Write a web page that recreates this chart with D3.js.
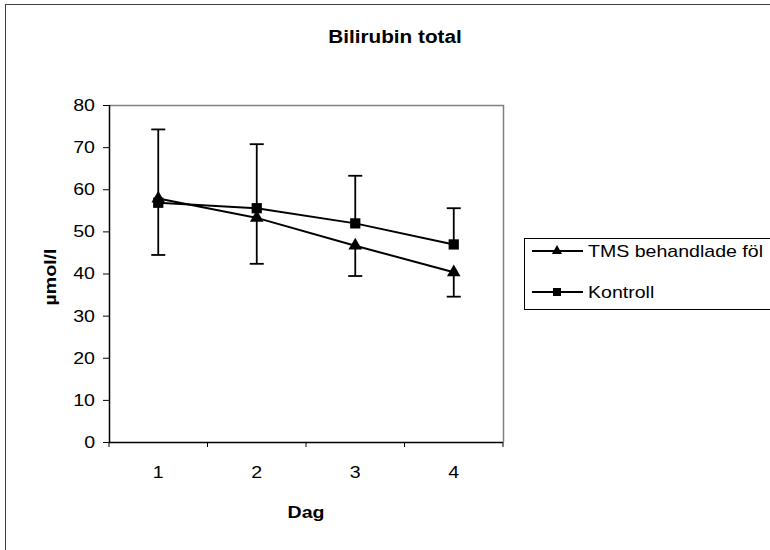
<!DOCTYPE html>
<html>

<head>
  <title>Bilirubin total</title>
  <script src="https://cdn.jsdelivr.net/npm/d3@7/dist/d3.min.js"></script>
  <style>
    body { margin: 0; background: #fff; }
    text { font-family: "Liberation Sans", Arial, sans-serif; }
  </style>
</head>

<body>
  <svg width="770" height="550" id="mainsvg"></svg>
  <script>
    // data
    const days = ['1', '2', '3', '4'];
    const tmsValues = [57.8, 53.2, 46.6, 40.3];
    const tmsErrMinus = [13.4, 10.9, 7.2, 5.8];
    const kontrollValues = [56.8, 55.5, 51.9, 46.9];
    const kontrollErrPlus = [17.4, 15.2, 11.3, 8.6];
    const yTicks = [0, 10, 20, 30, 40, 50, 60, 70, 80];
    const seriesNames = ['TMS behandlade föl', 'Kontroll'];

    const svg = d3.select('#mainsvg');
    const width = +svg.attr('width');
    const height = +svg.attr('height');

    // text in the original is a little wider than Arial
    const stretch = sel => sel.each(function () {
      const w = this.getComputedTextLength();
      d3.select(this).attr('textLength', w * 1.15).attr('lengthAdjust', 'spacingAndGlyphs');
    });

    // outer chart frame (runs off the right and bottom edge)
    svg.append('rect')
      .attr('x', 5.5).attr('y', 4.5)
      .attr('width', width + 10).attr('height', height + 10)
      .attr('fill', 'none').attr('stroke', '#404040').attr('stroke-width', 1);

    const plot = { left: 109, top: 105, right: 503, bottom: 442 };

    const x = d3.scaleBand().domain(days).range([plot.left, plot.right]);
    const y = d3.scaleLinear().domain([0, 80]).range([plot.bottom, plot.top]);
    const cx = d => x(d) + x.bandwidth() / 2;

    // plot frame: grey top / right
    svg.append('path')
      .attr('d', `M${plot.left},${plot.top + 0.5}H${plot.right + 0.5}V${plot.bottom}`)
      .attr('fill', 'none').attr('stroke', '#808080').attr('stroke-width', 1.5);

    // y axis
    const yAxis = svg.append('g')
      .attr('transform', `translate(${plot.left},0)`)
      .call(d3.axisLeft(y).tickValues(yTicks).tickSize(6).tickPadding(8));
    // x axis
    const xAxis = svg.append('g')
      .attr('transform', `translate(0,${plot.bottom})`)
      .call(d3.axisBottom(x).tickSize(0).tickPadding(24));
    xAxis.selectAll('.tick line').remove();
    xAxis.selectAll('.bnd')
      .data(days.concat(['end']))
      .join('line')
      .attr('x1', (d, i) => i < days.length ? x(d) : plot.right)
      .attr('x2', (d, i) => i < days.length ? x(d) : plot.right)
      .attr('y1', 0).attr('y2', 5)
      .attr('stroke', '#000');

    [yAxis, xAxis].forEach(a => {
      a.select('.domain').attr('stroke', '#000').attr('stroke-width', 1.5);
      a.selectAll('text').attr('font-size', 17).attr('fill', '#000')
        .attr('font-family', '"Liberation Sans", Arial, sans-serif')
        .call(stretch);
    });
    yAxis.select('.domain').attr('d', `M0.5,${plot.top}V${plot.bottom}`);
    xAxis.select('.domain').attr('d', `M${plot.left},0.5H${plot.right}`);

    // titles
    svg.append('text')
      .attr('x', 395).attr('y', 43)
      .attr('text-anchor', 'middle')
      .attr('font-size', 18).attr('font-weight', 'bold')
      .text('Bilirubin total').call(stretch);
    svg.append('text')
      .attr('x', 306).attr('y', 518)
      .attr('text-anchor', 'middle')
      .attr('font-size', 17).attr('font-weight', 'bold')
      .text('Dag').call(stretch);
    svg.append('text')
      .attr('transform', `translate(56,277) rotate(-90)`)
      .attr('text-anchor', 'middle')
      .attr('font-size', 17).attr('font-weight', 'bold')
      .text('µmol/l').call(stretch);

    const line = d3.line().x(d => cx(d.day)).y(d => y(d.v));
    const tmsData = days.map((d, i) => ({ day: d, v: tmsValues[i], lo: tmsValues[i] - tmsErrMinus[i], hi: tmsValues[i] }));
    const kData = days.map((d, i) => ({ day: d, v: kontrollValues[i], lo: kontrollValues[i], hi: kontrollValues[i] + kontrollErrPlus[i] }));

    const errG = svg.append('g').attr('stroke', '#000').attr('stroke-width', 1.8);
    const drawErr = (data, cap) => {
      errG.selectAll(null).data(data).join('line')
        .attr('x1', d => cx(d.day)).attr('x2', d => cx(d.day))
        .attr('y1', d => y(d.lo)).attr('y2', d => y(d.hi));
      errG.selectAll(null).data(data).join('line')
        .attr('x1', d => cx(d.day) - 7).attr('x2', d => cx(d.day) + 7)
        .attr('y1', d => y(d[cap])).attr('y2', d => y(d[cap]));
    };
    drawErr(tmsData, 'lo');
    drawErr(kData, 'hi');

    svg.append('path').datum(tmsData).attr('d', line)
      .attr('fill', 'none').attr('stroke', '#000').attr('stroke-width', 2);
    svg.append('path').datum(kData).attr('d', line)
      .attr('fill', 'none').attr('stroke', '#000').attr('stroke-width', 2);

    const tri = d3.symbol().type(d3.symbolTriangle).size(80);
    const sq = d3.symbol().type(d3.symbolSquare).size(105);
    svg.selectAll('.tri').data(tmsData).join('path')
      .attr('class', 'tri').attr('d', tri)
      .attr('transform', d => `translate(${cx(d.day)},${y(d.v)})`);
    svg.selectAll('.sq').data(kData).join('path')
      .attr('class', 'sq').attr('d', sq)
      .attr('transform', d => `translate(${cx(d.day)},${y(d.v)})`);

    // legend
    const lg = svg.append('g');
    lg.append('rect')
      .attr('x', 524.5).attr('y', 238.5).attr('width', 260).attr('height', 71)
      .attr('fill', '#fff').attr('stroke', '#000').attr('stroke-width', 1);
    const items = lg.selectAll('.item').data(seriesNames).join('g')
      .attr('class', 'item')
      .attr('transform', (d, i) => `translate(0,${251 + i * 41})`);
    items.append('line')
      .attr('x1', 532).attr('x2', 583).attr('y1', 0).attr('y2', 0)
      .attr('stroke', '#000').attr('stroke-width', 1.8);
    items.append('path')
      .attr('d', (d, i) => i === 0 ? d3.symbol().type(d3.symbolTriangle).size(45)() : d3.symbol().type(d3.symbolSquare).size(64)())
      .attr('transform', 'translate(557,0)');
    items.append('text')
      .attr('x', 588).attr('y', 0).attr('dy', '0.35em')
      .attr('font-size', 17)
      .text(d => d).call(stretch);
  </script>
</body>

</html>
